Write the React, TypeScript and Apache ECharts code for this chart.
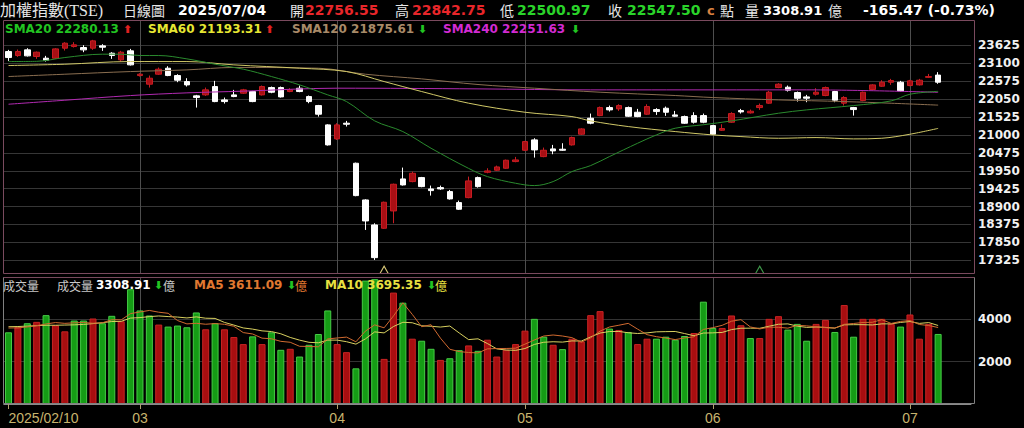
import React, { useEffect, useRef } from 'react';
import * as echarts from 'echarts';

// ---- categories (trading days) ----
const febDays = [10, 11, 12, 13, 14, 17, 18, 19, 20, 21, 24, 25, 26, 27];
const marDays = [3, 4, 5, 6, 7, 10, 11, 12, 13, 14, 17, 18, 19, 20, 21, 24, 25, 26, 27, 28, 31];
const aprDays = [1, 2, 7, 8, 9, 10, 11, 14, 15, 16, 17, 18, 21, 22, 23, 24, 25, 28, 29, 30];
const mayDays = [2, 5, 6, 7, 8, 9, 12, 13, 14, 15, 16, 19, 20, 21, 22, 23, 26, 27, 28, 29];
const junDays = [2, 3, 4, 5, 6, 9, 10, 11, 12, 13, 16, 17, 18, 19, 20, 23, 24, 25, 26, 27, 30];
const julDays = [1, 2, 3, 4];
const monthList = [
  { m: '02', days: febDays },
  { m: '03', days: marDays },
  { m: '04', days: aprDays },
  { m: '05', days: mayDays },
  { m: '06', days: junDays },
  { m: '07', days: julDays },
];
const emptySlots = 3;

// ---- OHLC ----
const opens = [
  23447, 23330, 23496, 23301, 23252, 23252, 23545, 23594, 23565, 23545,
  23614, 23398, 23203, 23467, 22743, 22489, 22782, 22958, 22743, 22567,
  22147, 22176, 22420, 22029, 22176, 22225, 22274, 22176, 22391, 22391,
  22274, 22371, 22127, 21863, 21296, 20885, 21345, 20171, 19095, 18362,
  18264, 18772, 19711, 19633, 19750, 19418, 19457, 19340, 19017, 19163,
  19750, 19907, 19966, 20024, 20220, 20552, 20856, 20366, 20592, 20582,
  20709, 21022, 21491, 21569, 21804, 21765, 21804, 21667, 21609, 21745,
  21785, 21589, 21540, 21569, 21569, 21276, 21139, 21374, 21716, 21648,
  21804, 21932, 22391, 22401, 22244, 22117, 22196, 22157, 22274, 21932,
  21804, 22010, 22333, 22430, 22547, 22547, 22450, 22469, 22690, 22756.55,
];
const closes = [
  23271, 23447, 23320, 23428, 23193, 23525, 23692, 23643, 23496, 23760,
  23574, 23330, 23428, 23056, 22782, 22665, 22929, 22743, 22606, 22469,
  22098, 22323, 21980, 21980, 22127, 22323, 21980, 22420, 22254, 22117,
  22323, 22274, 21980, 21609, 20709, 21296, 21315, 19222, 18479, 17403,
  19027, 19555, 19535, 19877, 19486, 19369, 19418, 19125, 18822, 19653,
  19486, 19946, 20063, 20259, 20269, 20807, 20562, 20552, 20533, 20552,
  20924, 21178, 21345, 21804, 21736, 21863, 21550, 21540, 21834, 21687,
  21667, 21550, 21345, 21374, 21374, 21022, 21188, 21628, 21677, 21697,
  21863, 22254, 22489, 22313, 22078, 22078, 22254, 22391, 22020, 22098,
  21745, 22254, 22469, 22547, 22596, 22293, 22587, 22606, 22713, 22547.5,
];
const lows = [
  23173, 23291, 23301, 23232, 23154, 23232, 23476, 23565, 23428, 23496,
  23467, 23232, 23154, 23037, 22714, 22391, 22763, 22724, 22548, 22420,
  21804, 22147, 21961, 21921, 22108, 22205, 21961, 22157, 22225, 22098,
  22254, 22254, 21931, 21540, 20689, 20855, 21247, 19203, 18215, 17335,
  18244, 18411, 19516, 19613, 19467, 19222, 19389, 19105, 18802, 19144,
  19457, 19877, 19946, 20005, 20200, 20533, 20337, 20347, 20435, 20533,
  20689, 21002, 21315, 21550, 21687, 21706, 21530, 21521, 21589, 21589,
  21560, 21530, 21325, 21335, 21345, 21002, 21120, 21355, 21628, 21628,
  21736, 21912, 22372, 22274, 21980, 21961, 22157, 22137, 21961, 21863,
  21569, 21990, 22313, 22411, 22469, 22274, 22430, 22450, 22670, 22500.97,
];
const highs = [
  23496, 23506, 23545, 23447, 23320, 23545, 23721, 23721, 23633, 23789,
  23663, 23428, 23467, 23525, 22812, 22743, 22978, 23017, 22782, 22665,
  22176, 22391, 22587, 22098, 22323, 22352, 22293, 22450, 22420, 22420,
  22372, 22450, 22157, 21882, 21315, 21345, 21413, 20190, 19115, 18411,
  19046, 19574, 20044, 19926, 19770, 19516, 19516, 19389, 19076, 19780,
  19780, 20024, 20102, 20278, 20357, 20826, 20905, 20631, 20709, 20758,
  20953, 21198, 21628, 21834, 21863, 21902, 21834, 21765, 21902, 21785,
  21834, 21706, 21569, 21667, 21628, 21296, 21315, 21667, 21765, 21745,
  21922, 22293, 22518, 22450, 22274, 22176, 22372, 22420, 22293, 22137,
  21824, 22274, 22489, 22606, 22645, 22587, 22616, 22645, 22790, 22842.75,
];

// ---- volume (億) and its colour (1 = up day / red, 0 = down day / green) ----
const volumes = [
  3387, 3625, 3816, 3880, 4198, 3721, 3434, 3943, 3943, 4039,
  3816, 4166, 3911, 5422, 4420, 4182, 3752, 3657, 3705, 3625,
  4325, 3530, 3816, 3530, 3164, 2830, 3196, 2830, 3387, 2560,
  2608, 2242, 2798, 3307, 4420, 2830, 2449, 1685, 5830, 5900,
  2131, 5263, 4786, 3085, 2989, 2608, 2083, 2162, 2544, 2767,
  2512, 3037, 2242, 2560, 2830, 3466, 4023, 3180, 2798, 2592,
  3085, 2957, 4198, 4388, 3562, 3498, 3403, 2830, 3085, 3085,
  3180, 3037, 3212, 3355, 4834, 3593, 3593, 4182, 3721, 3116,
  3116, 4023, 4150, 3514, 3784, 2989, 3784, 3975, 3403, 4675,
  3180, 4023, 4023, 4023, 3784, 3657, 4229, 3085, 3784, 3308.91,
];
const volUp = [
  0, 1, 0, 1, 0, 1, 1, 0, 0, 1,
  0, 0, 1, 0, 0, 0, 1, 0, 0, 0,
  0, 1, 0, 1, 1, 1, 0, 1, 0, 0,
  1, 0, 0, 0, 0, 1, 1, 0, 0, 0,
  1, 1, 0, 1, 0, 0, 1, 0, 0, 1,
  0, 1, 1, 1, 1, 1, 0, 0, 1, 0,
  1, 1, 1, 1, 0, 1, 0, 1, 1, 0,
  0, 0, 0, 1, 0, 0, 1, 1, 1, 0,
  1, 1, 1, 0, 0, 0, 1, 1, 0, 1,
  0, 1, 1, 1, 1, 0, 1, 1, 1, 0,
];
// volume MA values before a full window exists
const volMa5Head = [3590, 3600, 3640, 3700];
const volMa10Head = [3650, 3660, 3680, 3700, 3720, 3720, 3730, 3740, 3760];

// ---- price moving averages: [day index, value] ----
const sma20Pts = [[0, 23154], [3, 23160], [6, 23271], [10, 23369], [12, 23369], [14, 23330], [16, 23330], [19, 23232], [22, 23075], [25, 22930], [28, 22714], [31, 22469], [34, 22176], [36, 21980], [39, 21413], [42, 21100], [45, 20611], [49, 20020], [51, 19780], [54, 19584], [56, 19516], [58, 19633], [60, 19926], [62, 20103], [64, 20367], [67, 20758], [69, 21002], [71, 21198], [74, 21300], [77, 21413], [82, 21638], [85, 21736], [90, 21863], [94, 22000], [96, 22195], [99, 22280.13]];
const sma60Pts = [[0, 23037], [6, 23075], [13, 23154], [19, 23154], [24, 23056], [31, 22958], [36, 22860], [40, 22567], [44, 22274], [49, 21932], [55, 21667], [60, 21540], [62, 21413], [66, 21247], [71, 21100], [75, 21002], [78, 20953], [82, 20904], [86, 20924], [90, 20885], [93, 20904], [96, 21022], [99, 21193.31]];
const sma120Pts = [[0, 22714], [6, 22782], [13, 22860], [19, 22909], [24, 22980], [33, 22958], [38, 22782], [44, 22645], [50, 22480], [56, 22372], [63, 22254], [71, 22157], [75, 22098], [82, 22029], [89, 21980], [94, 21931], [99, 21875.61]];
const sma240Pts = [[0, 21902], [6, 22019], [13, 22156], [19, 22235], [25, 22285], [35, 22372], [50, 22352], [62, 22323], [75, 22323], [85, 22323], [99, 22251.63]];

// ---- axes ----
const priceTicks = [17325, 17850, 18375, 18900, 19425, 19950, 20475, 21000, 21525, 22050, 22575, 23100, 23625];
const priceMin = 16923;
const priceMax = 24372;
const volMax = 6000;
const volInterval = 2000;

// ---- event markers at the bottom of the price panel ----
const eventMarks = [
  { idx: 40, price: 17050, color: '#d8c878' },
  { idx: 80, price: 17050, color: '#3e9a4a' },
];

// ---- header texts ----
const headerItems: [number, string, string, string][] = [
  [0, '加權指數(TSE)', '#e6e6e6', "16px 'Liberation Serif', 'Noto Sans CJK TC'"],
  [123, '日線圖', '#e6e6e6', "14px 'Noto Sans CJK TC'"],
  [178, '2025/07/04', '#ffffff', "bold 14px 'DejaVu Sans'"],
  [290, '開', '#e6e6e6', "14px 'Noto Sans CJK TC'"],
  [305, '22756.55', '#e8262a', "bold 14px 'DejaVu Sans'"],
  [395, '高', '#e6e6e6', "14px 'Noto Sans CJK TC'"],
  [412, '22842.75', '#e8262a', "bold 14px 'DejaVu Sans'"],
  [500, '低', '#e6e6e6', "14px 'Noto Sans CJK TC'"],
  [517, '22500.97', '#2ad42a', "bold 14px 'DejaVu Sans'"],
  [608, '收', '#e6e6e6', "14px 'Noto Sans CJK TC'"],
  [627, '22547.50', '#2ad42a', "bold 14px 'DejaVu Sans'"],
  [707, 'c', '#d88040', "bold 13px 'DejaVu Sans'"],
  [720, '點', '#e6e6e6', "14px 'Noto Sans CJK TC'"],
  [745, '量', '#e6e6e6', "14px 'Noto Sans CJK TC'"],
  [763, '3308.91', '#ffffff', "bold 13px 'DejaVu Sans'"],
  [828, '億', '#e6e6e6', "14px 'Noto Sans CJK TC'"],
  [863, '-165.47 (-0.73%)', '#ffffff', "bold 14px 'DejaVu Sans'"],
];
const legendItems: [number, string, string, string][] = [
  [5, 'SMA20 22280.13', '#22c422', "bold 12px 'DejaVu Sans'"],
  [123, '⬆', '#e02020', "bold 11px 'DejaVu Sans'"],
  [148, 'SMA60 21193.31', '#e6e632', "bold 12px 'DejaVu Sans'"],
  [265, '⬆', '#e02020', "bold 11px 'DejaVu Sans'"],
  [292, 'SMA120 21875.61', '#a88a68', "bold 12px 'DejaVu Sans'"],
  [418, '⬇', '#22c422', "bold 11px 'DejaVu Sans'"],
  [443, 'SMA240 22251.63', '#d22ad2', "bold 12px 'DejaVu Sans'"],
  [571, '⬇', '#22c422', "bold 11px 'DejaVu Sans'"],
];
const volLegendItems: [number, string, string, string][] = [
  [3, '成交量', '#c8c8c8', "12px 'Noto Sans CJK TC'"],
  [57, '成交量', '#c8c8c8', "12px 'Noto Sans CJK TC'"],
  [96, '3308.91', '#ffffff', "bold 12px 'DejaVu Sans'"],
  [154, '⬇', '#22c422', "bold 11px 'DejaVu Sans'"],
  [163, '億', '#c8c8c8', "12px 'Noto Sans CJK TC'"],
  [194, 'MA5 3611.09', '#e07830', "bold 12px 'DejaVu Sans'"],
  [287, '⬇', '#22c422', "bold 11px 'DejaVu Sans'"],
  [295, '億', '#e07830', "12px 'Noto Sans CJK TC'"],
  [325, 'MA10 3695.35', '#e8e040', "bold 12px 'DejaVu Sans'"],
  [427, '⬇', '#22c422', "bold 11px 'DejaVu Sans'"],
  [435, '億', '#e8e040', "12px 'Noto Sans CJK TC'"],
];

function buildOption() {
  const pad = (n: number) => String(n).padStart(2, '0');
  const categories: string[] = [];
  const monthStartIdx: number[] = [];
  monthList.forEach(({ m, days }) => {
    monthStartIdx.push(categories.length);
    days.forEach((d) => categories.push(`2025/${m}/${pad(d)}`));
  });
  for (let k = 0; k < emptySlots; k++) categories.push('');
  const isMonthStart = (i: number) => monthStartIdx.includes(i);

  const candles = opens.map((o, i) => [o, closes[i], lows[i], highs[i]]);
  const volData = volumes.map((v, i) => ({
    value: v,
    itemStyle: volUp[i]
      ? { color: '#a80e10', borderColor: '#c82424', borderWidth: 1 }
      : { color: '#159c15', borderColor: '#46cc46', borderWidth: 1 },
  }));
  const avg = (a: number[]) => a.reduce((s, x) => s + x, 0) / a.length;
  const volMa5 = volumes.map((_, i) => (i < 4 ? volMa5Head[i] : avg(volumes.slice(i - 4, i + 1))));
  const volMa10 = volumes.map((_, i) => (i < 9 ? volMa10Head[i] : avg(volumes.slice(i - 9, i + 1))));

  const gridLeft = 3.8;
  const gridWidth = 967.2;

  const mkText = (items: [number, string, string, string][], y: number) =>
    items.map(([x, text, fill, font]) => ({
      type: 'text',
      x,
      y,
      z: 100,
      style: { text, fill, font, verticalAlign: 'middle' },
    }));

  const maLine = (name: string, pts: number[][], color: string) => ({
    name,
    type: 'line',
    xAxisIndex: 0,
    yAxisIndex: 0,
    data: pts,
    showSymbol: false,
    smooth: 0.35,
    silent: true,
    z: 12,
    lineStyle: { color, width: 1 },
  });

  const plainNum = (v: number) => String(v);

  return {
    animation: false,
    backgroundColor: '#000000',
    grid: [
      { left: gridLeft, top: 20, width: gridWidth, height: 254 },
      { left: gridLeft, top: 277, width: gridWidth, height: 127 },
    ],
    xAxis: [
      {
        type: 'category',
        gridIndex: 0,
        data: categories,
        boundaryGap: true,
        axisLine: { show: false },
        axisTick: { show: false },
        axisLabel: { show: false },
        splitLine: { show: false },
      },
      {
        type: 'category',
        gridIndex: 1,
        data: categories,
        boundaryGap: true,
        axisLine: { show: true, lineStyle: { color: '#8a8a8a' } },
        axisTick: { show: true, alignWithLabel: true, interval: (i: number) => isMonthStart(i), length: 5, lineStyle: { color: '#b0a070' } },
        axisLabel: {
          show: true,
          interval: (i: number) => isMonthStart(i),
          formatter: (v: string, i: number) => (i === 0 ? v : v.slice(5, 7)),
          color: '#c8b46e',
          fontFamily: 'Liberation Sans',
          fontSize: 14,
          margin: 7,
          alignMinLabel: 'left',
        },
        splitLine: { show: false },
      },
    ],
    yAxis: [
      {
        type: 'value',
        gridIndex: 0,
        position: 'right',
        min: priceMin,
        max: priceMax,
        axisLine: { show: false },
        axisTick: { show: false, customValues: priceTicks },
        splitLine: { show: false },
        axisLabel: { customValues: priceTicks, formatter: plainNum, color: '#f2f2f2', fontFamily: 'DejaVu Sans', fontWeight: 'bold', fontSize: 12, margin: 7 },
      },
      {
        type: 'value',
        gridIndex: 1,
        position: 'right',
        min: 0,
        max: volMax,
        interval: volInterval,
        axisLine: { show: false },
        axisTick: { show: false },
        splitLine: { show: true, lineStyle: { color: '#333333' } },
        axisLabel: { showMinLabel: false, showMaxLabel: false, formatter: plainNum, color: '#f2f2f2', fontFamily: 'DejaVu Sans', fontWeight: 'bold', fontSize: 12, margin: 7 },
      },
    ],
    series: [
      {
        name: 'grid',
        type: 'line',
        xAxisIndex: 0,
        yAxisIndex: 0,
        data: [],
        z: 1,
        silent: true,
        markLine: {
          silent: true,
          symbol: ['none', 'none'],
          label: { show: false },
          animation: false,
          data: [
            ...priceTicks.map((v) => ({ yAxis: v, lineStyle: { color: '#363636', width: 1, type: 'solid' } })),
            ...monthStartIdx.slice(1).map((i) => ({ xAxis: i, lineStyle: { color: '#4e4e4e', width: 1, type: 'solid' } })),
          ],
        },
      },
      {
        name: '加權指數',
        type: 'candlestick',
        xAxisIndex: 0,
        yAxisIndex: 0,
        data: candles,
        barWidth: 6,
        z: 10,
        silent: true,
        itemStyle: {
          color: '#a80f14',
          color0: '#ffffff',
          borderColor: '#c81c22',
          borderColor0: '#ffffff',
          borderWidth: 1,
        },
        markPoint: {
          silent: true,
          symbol: 'path://M0,10L5,0L10,10',
          symbolSize: [8, 7],
          label: { show: false },
          data: eventMarks.map((e) => ({
            coord: [e.idx, e.price],
            itemStyle: { color: 'rgba(0,0,0,0)', borderColor: e.color, borderWidth: 1 },
          })),
        },
      },
      maLine('SMA240', sma240Pts, '#b02ab0'),
      maLine('SMA120', sma120Pts, '#8a6e50'),
      maLine('SMA60', sma60Pts, '#d0c868'),
      maLine('SMA20', sma20Pts, '#2a8a2e'),
      {
        name: 'vgrid',
        type: 'line',
        xAxisIndex: 1,
        yAxisIndex: 1,
        data: [],
        z: 1,
        silent: true,
        markLine: {
          silent: true,
          symbol: ['none', 'none'],
          label: { show: false },
          animation: false,
          data: monthStartIdx.slice(1).map((i) => ({ xAxis: i, lineStyle: { color: '#4e4e4e', width: 1, type: 'solid' } })),
        },
      },
      {
        name: '成交量',
        type: 'bar',
        xAxisIndex: 1,
        yAxisIndex: 1,
        data: volData,
        barWidth: 7,
        z: 10,
        silent: true,
      },
      {
        name: 'MA10',
        type: 'line',
        xAxisIndex: 1,
        yAxisIndex: 1,
        data: volMa10,
        showSymbol: false,
        silent: true,
        z: 12,
        lineStyle: { color: '#d8d060', width: 1 },
      },
      {
        name: 'MA5',
        type: 'line',
        xAxisIndex: 1,
        yAxisIndex: 1,
        data: volMa5,
        showSymbol: false,
        silent: true,
        z: 12,
        lineStyle: { color: '#d06a30', width: 1 },
      },
    ],
    graphic: [
      { type: 'rect', z: 50, shape: { x: 3.5, y: 20.5, width: 971, height: 253 }, style: { fill: 'none', stroke: '#7a4a5e', lineWidth: 1 } },
      { type: 'rect', z: 50, shape: { x: 3.5, y: 277.5, width: 971, height: 126 }, style: { fill: 'none', stroke: '#808080', lineWidth: 1 } },
      { type: 'line', z: 51, shape: { x1: 3.5, y1: 277.5, x2: 974.5, y2: 277.5 }, style: { stroke: '#7a4a5e', lineWidth: 1 } },
      ...mkText(headerItems, 10),
      ...mkText(legendItems, 29),
      ...mkText(volLegendItems, 285),
    ],
  };
}

export default function App() {
  const ref = useRef<HTMLDivElement>(null);
  useEffect(() => {
    if (!ref.current) return;
    const chart = echarts.init(ref.current, undefined, { renderer: 'svg' });
    chart.setOption(buildOption() as any);
    return () => chart.dispose();
  }, []);
  return (
    <div
      ref={ref}
      style={{ position: 'absolute', left: 0, top: 0, width: 1024, height: 428, background: '#000' }}
    />
  );
}
